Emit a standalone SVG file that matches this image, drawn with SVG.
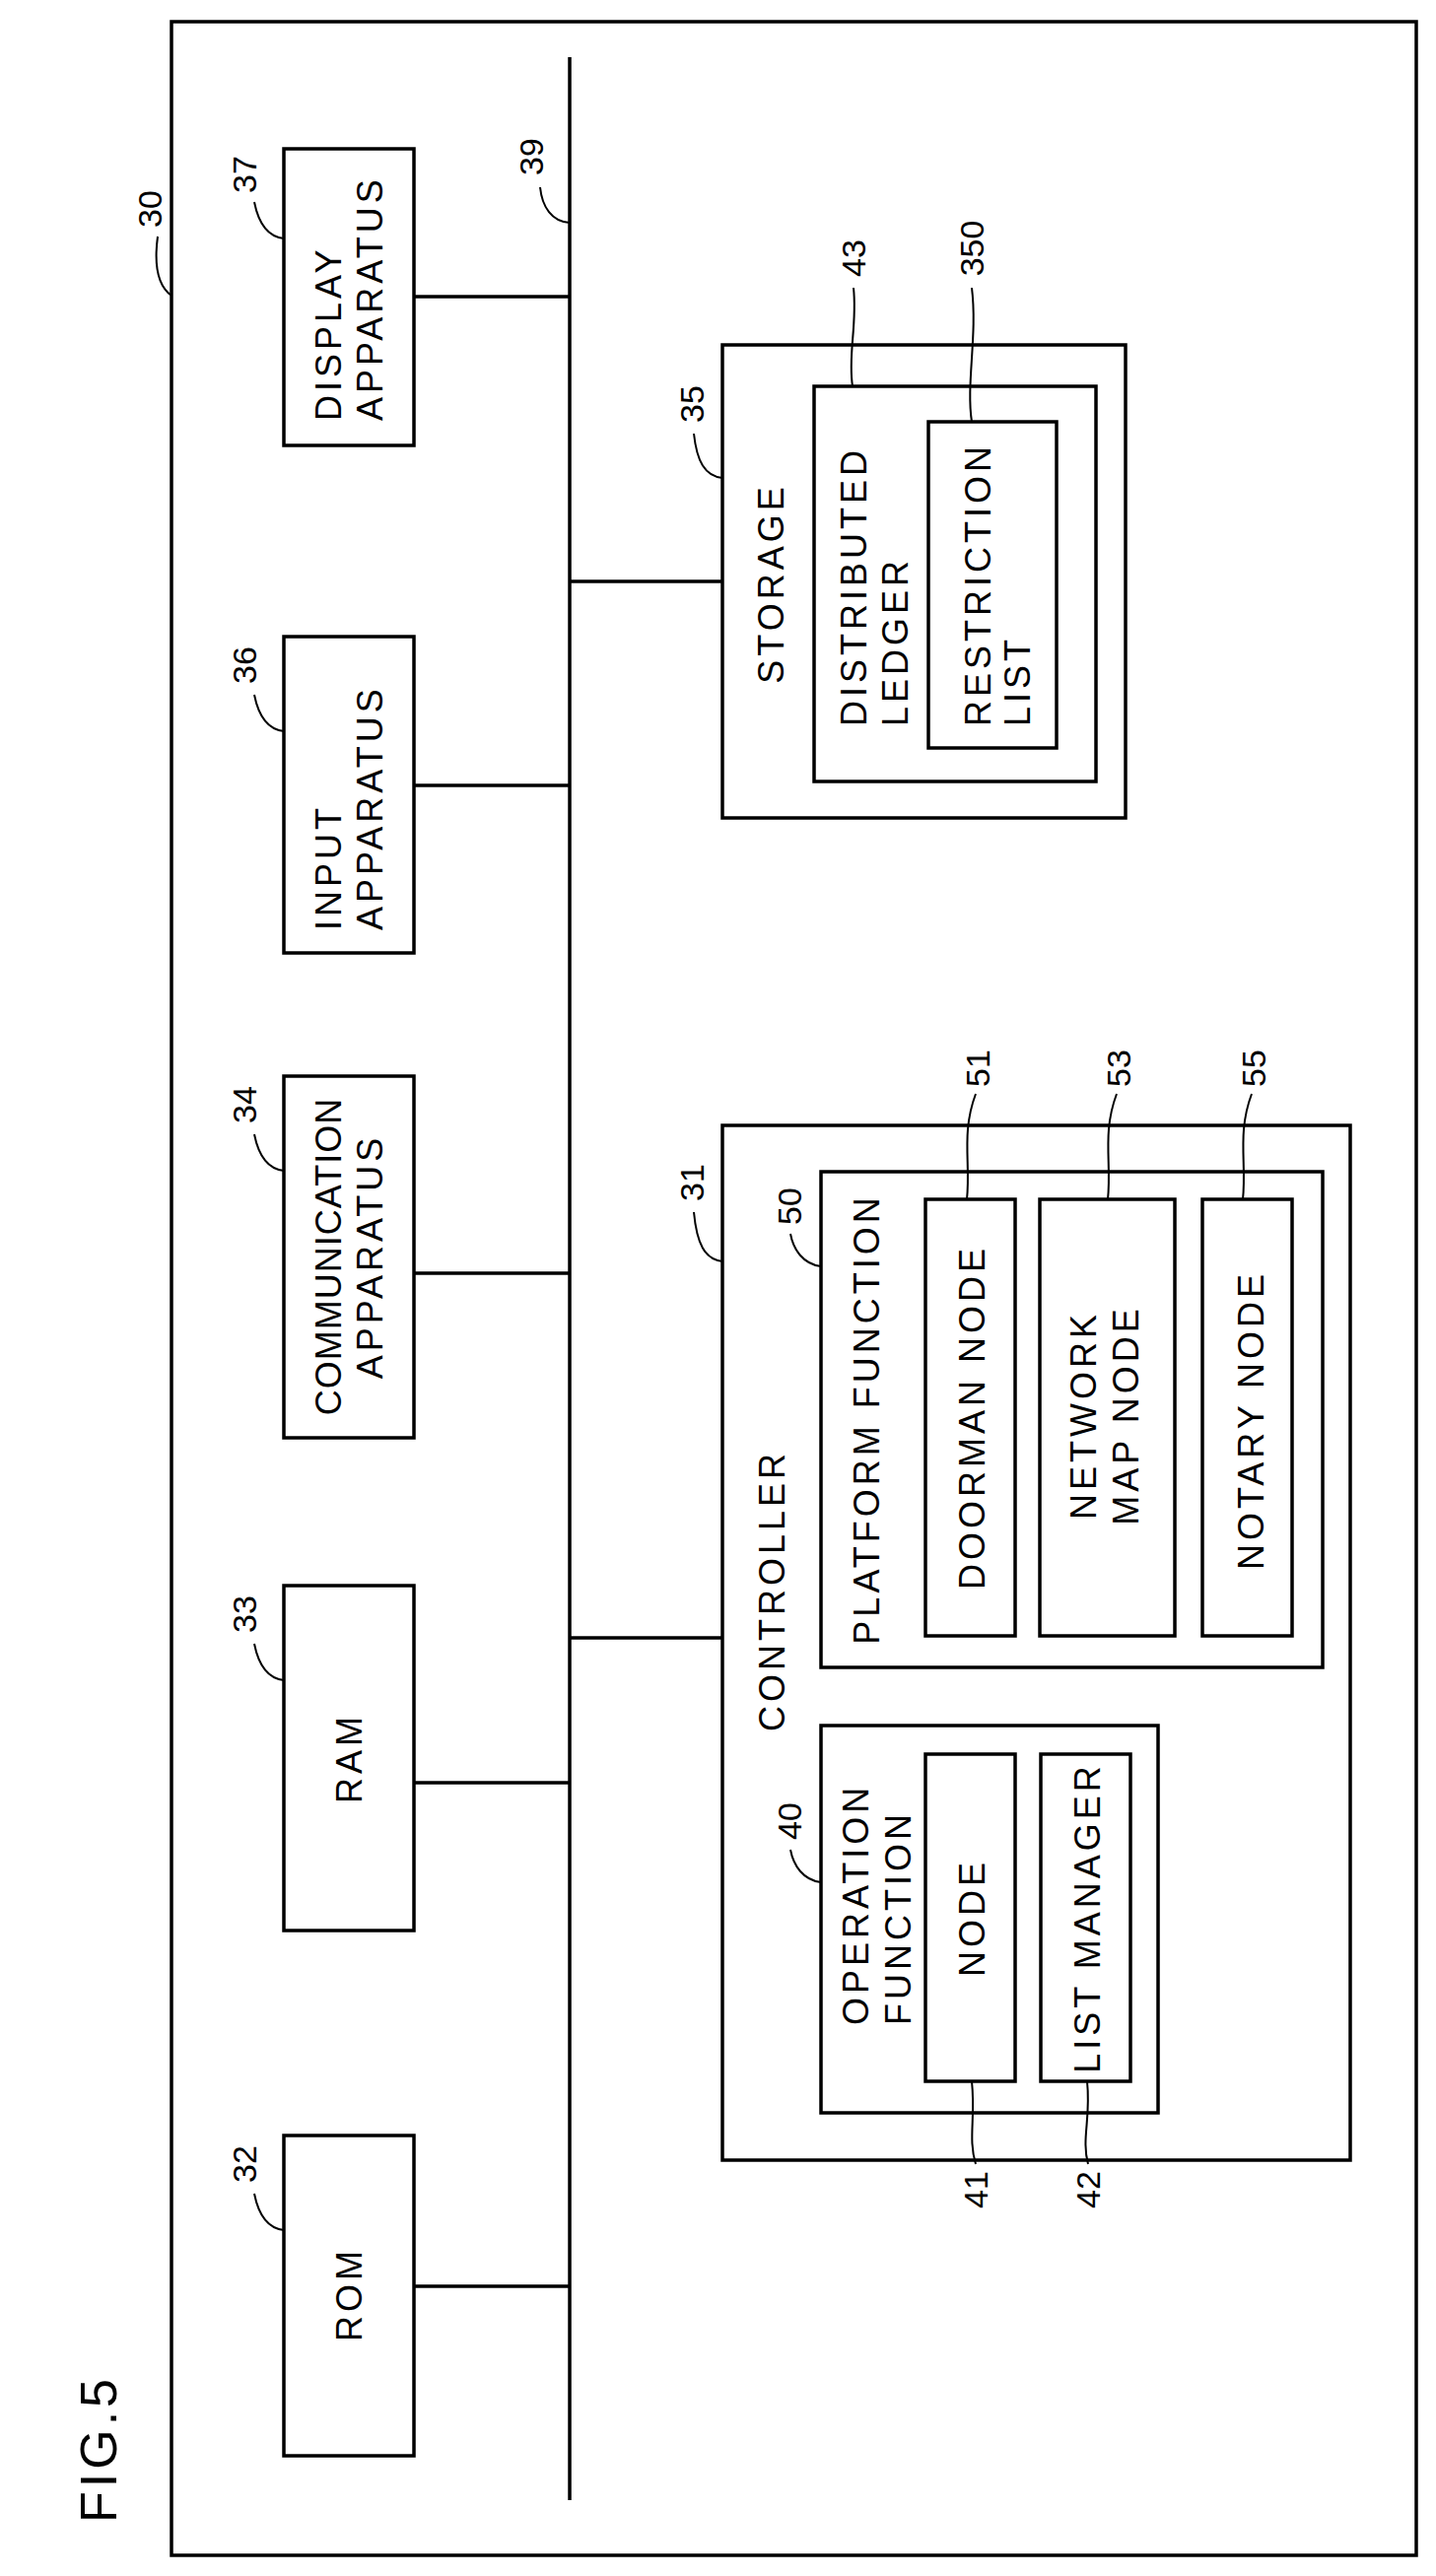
<svg xmlns="http://www.w3.org/2000/svg" width="1457" height="2614" viewBox="0 0 1457 2614">
<style>
.b{fill:none;stroke:#000;stroke-width:3.5}
.l{fill:none;stroke:#000;stroke-width:3.5}
.ld{fill:none;stroke:#000;stroke-width:2}
.t{font-family:"Liberation Sans",Arial,sans-serif;font-size:36px;letter-spacing:4px;fill:#000}
.m{text-anchor:middle}
.n{font-family:"Liberation Sans",Arial,sans-serif;font-size:34px;fill:#000;text-anchor:middle}
</style>
<rect width="1457" height="2614" fill="#fff"/>
<text class="t" transform="translate(118,2560) rotate(-90)" style="font-size:52px">FIG.5</text>
<g id="n30"><rect class="b" x="174" y="22" width="1263" height="2571"/>
<text class="n" transform="translate(164,212) rotate(-90)">30</text></g>
<g id="connectors">
<line class="l" x1="578" y1="58" x2="578" y2="2537"/>
<line class="l" x1="420" y1="301" x2="578" y2="301"/>
<line class="l" x1="420" y1="797" x2="578" y2="797"/>
<line class="l" x1="420" y1="1292" x2="578" y2="1292"/>
<line class="l" x1="420" y1="1809" x2="578" y2="1809"/>
<line class="l" x1="420" y1="2320" x2="578" y2="2320"/>
<line class="l" x1="578" y1="590" x2="733" y2="590"/>
<line class="l" x1="578" y1="1662" x2="733" y2="1662"/>
<path class="ld" d="M174,300 C160,290 156,270 160,240"/>
<path class="ld" d="M288,242 C270,240 262,225 258,205"/>
<path class="ld" d="M288,742 C270,740 262,725 258,705"/>
<path class="ld" d="M288,1188 C270,1186 262,1171 258,1151"/>
<path class="ld" d="M288,1705 C270,1703 262,1688 258,1668"/>
<path class="ld" d="M288,2263 C270,2261 262,2246 258,2226"/>
<path class="ld" d="M578,226 C560,225 550,210 548,190"/>
<path class="ld" d="M733,485 C715,483 707,468 704,440"/>
<path class="ld" d="M733,1280 C715,1278 707,1262 704,1230"/>
<path class="ld" d="M833,1285 C815,1283 805,1268 802,1252"/>
<path class="ld" d="M833,1910 C815,1908 805,1893 802,1877"/>
<path class="ld" d="M865,392 C860,360 870,330 866,292"/>
<path class="ld" d="M986,428 C980,390 992,340 986,292"/>
<path class="ld" d="M981,1217 C985,1180 975,1150 990,1110"/>
<path class="ld" d="M1124,1217 C1128,1180 1118,1150 1133,1110"/>
<path class="ld" d="M1261,1217 C1265,1180 1255,1150 1270,1110"/>
<path class="ld" d="M986,2112 C990,2150 982,2170 990,2196"/>
<path class="ld" d="M1103,2112 C1107,2150 1097,2170 1104,2196"/>
</g>
<g id="n37"><rect class="b" x="288" y="151" width="132" height="301"/>
<text class="t" transform="translate(346,427) rotate(-90)">DISPLAY</text>
<text class="t" transform="translate(388,427) rotate(-90)">APPARATUS</text>
<text class="n" transform="translate(260,177) rotate(-90)">37</text></g>
<g id="n36"><rect class="b" x="288" y="646" width="132" height="321"/>
<text class="t" transform="translate(346,944) rotate(-90)">INPUT</text>
<text class="t" transform="translate(388,944) rotate(-90)">APPARATUS</text>
<text class="n" transform="translate(260,675) rotate(-90)">36</text></g>
<g id="n34"><rect class="b" x="288" y="1092" width="132" height="367"/>
<text class="t m" transform="translate(346,1275) rotate(-90)" style="letter-spacing:1px">COMMUNICATION</text>
<text class="t m" transform="translate(388,1275) rotate(-90)">APPARATUS</text>
<text class="n" transform="translate(260,1121) rotate(-90)">34</text></g>
<g id="n33"><rect class="b" x="288" y="1609" width="132" height="350"/>
<text class="t m" transform="translate(367,1784) rotate(-90)">RAM</text>
<text class="n" transform="translate(260,1638) rotate(-90)">33</text></g>
<g id="n32"><rect class="b" x="288" y="2167" width="132" height="325"/>
<text class="t m" transform="translate(367,2328) rotate(-90)">ROM</text>
<text class="n" transform="translate(260,2196) rotate(-90)">32</text></g>
<g id="n39"><text class="n" transform="translate(551,159) rotate(-90)">39</text></g>
<g id="n35"><rect class="b" x="733" y="350" width="409" height="480"/>
<text class="t m" transform="translate(795,592) rotate(-90)">STORAGE</text>
<text class="n" transform="translate(714,410) rotate(-90)">35</text></g>
<g id="n43"><rect class="b" x="826" y="392" width="286" height="401"/>
<text class="t" transform="translate(879,737) rotate(-90)">DISTRIBUTED</text>
<text class="t" transform="translate(921,737) rotate(-90)">LEDGER</text>
<text class="n" transform="translate(878,262) rotate(-90)">43</text></g>
<g id="n350"><rect class="b" x="942" y="428" width="130" height="331"/>
<text class="t" transform="translate(1005,737) rotate(-90)">RESTRICTION</text>
<text class="t" transform="translate(1045,737) rotate(-90)">LIST</text>
<text class="n" transform="translate(998,252) rotate(-90)">350</text></g>
<g id="n31"><rect class="b" x="733" y="1142" width="637" height="1050"/>
<text class="t" transform="translate(796,1757) rotate(-90)">CONTROLLER</text>
<text class="n" transform="translate(714,1200) rotate(-90)">31</text></g>
<g id="n50"><rect class="b" x="833" y="1189" width="509" height="503"/>
<text class="t m" transform="translate(892,1440) rotate(-90)">PLATFORM FUNCTION</text>
<text class="n" transform="translate(813,1224) rotate(-90)">50</text></g>
<g id="n51"><rect class="b" x="939" y="1217" width="91" height="443"/>
<text class="t m" transform="translate(999,1438) rotate(-90)">DOORMAN NODE</text>
<text class="n" transform="translate(1004,1084) rotate(-90)">51</text></g>
<g id="n53"><rect class="b" x="1055" y="1217" width="137" height="443"/>
<text class="t m" transform="translate(1112,1436) rotate(-90)">NETWORK</text>
<text class="t m" transform="translate(1155,1436) rotate(-90)">MAP NODE</text>
<text class="n" transform="translate(1147,1084) rotate(-90)">53</text></g>
<g id="n55"><rect class="b" x="1220" y="1217" width="91" height="443"/>
<text class="t m" transform="translate(1282,1441) rotate(-90)">NOTARY NODE</text>
<text class="n" transform="translate(1284,1084) rotate(-90)">55</text></g>
<g id="n40"><rect class="b" x="833" y="1751" width="342" height="393"/>
<text class="t" transform="translate(881,2055) rotate(-90)">OPERATION</text>
<text class="t" transform="translate(924,2055) rotate(-90)">FUNCTION</text>
<text class="n" transform="translate(813,1848) rotate(-90)">40</text></g>
<g id="n41"><rect class="b" x="939" y="1780" width="91" height="332"/>
<text class="t m" transform="translate(999,1946) rotate(-90)">NODE</text>
<text class="n" transform="translate(1002,2222) rotate(-90)">41</text></g>
<g id="n42"><rect class="b" x="1056" y="1780" width="91" height="332"/>
<text class="t m" transform="translate(1116,1946) rotate(-90)">LIST MANAGER</text>
<text class="n" transform="translate(1116,2222) rotate(-90)">42</text></g>
</svg>
